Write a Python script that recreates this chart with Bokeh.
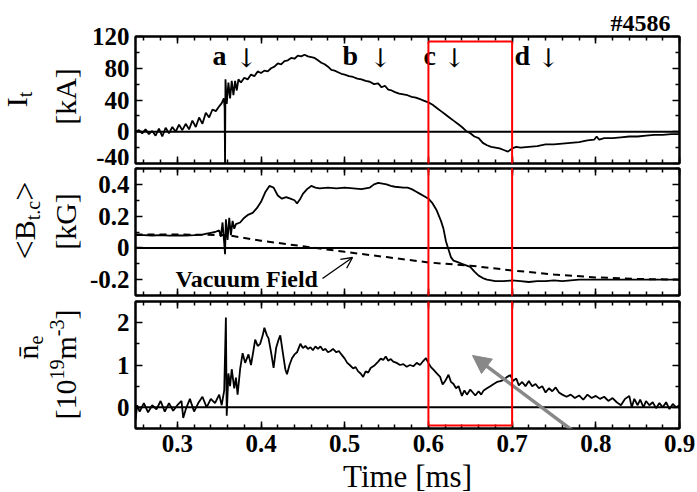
import numpy as np
from bokeh.plotting import figure
from bokeh.models import Range1d, LinearAxis, FixedTicker, Span, Label, Arrow, OpenHead, NormalHead, Title
from bokeh.layouts import column, row
from bokeh.embed import file_html
from bokeh.resources import INLINE

# ---------------- data ----------------
x_major = [0.3, 0.4, 0.5, 0.6, 0.7, 0.8, 0.9]
x_labels = ["0.3", "0.4", "0.5", "0.6", "0.7", "0.8", "0.9"]

it_major = [-40, 0, 40, 80, 120]
it_labels = ["-40", "0", "40", "80", "120"]
bt_major = [-0.2, 0.0, 0.2, 0.4]
bt_labels = ["-0.2", "0", "0.2", "0.4"]
ne_major = [0, 1, 2]
ne_labels = ["0", "1", "2"]

t_it = [0.250, 0.254, 0.258, 0.262, 0.266, 0.270, 0.274, 0.278, 0.282, 0.286, 0.290, 0.294,
        0.298, 0.302, 0.306, 0.310, 0.314, 0.318, 0.322, 0.326, 0.330, 0.334, 0.338, 0.342,
        0.346, 0.350, 0.353, 0.3555, 0.3565, 0.357, 0.3575, 0.359, 0.361, 0.363, 0.365, 0.367,
        0.369, 0.371, 0.373, 0.376, 0.380, 0.384, 0.388, 0.392, 0.396, 0.400, 0.404, 0.408,
        0.412, 0.416, 0.420, 0.424, 0.428, 0.432, 0.436, 0.440, 0.444, 0.448, 0.452, 0.456,
        0.460, 0.464, 0.468, 0.472, 0.476, 0.480, 0.484, 0.488, 0.492, 0.496, 0.500, 0.505,
        0.510, 0.515, 0.520, 0.525, 0.530, 0.535, 0.540, 0.544, 0.548, 0.552, 0.556, 0.560,
        0.565, 0.570, 0.575, 0.580, 0.585, 0.590, 0.595, 0.600, 0.605, 0.610, 0.615, 0.620,
        0.625, 0.630, 0.635, 0.640, 0.645, 0.650, 0.655, 0.660, 0.665, 0.670, 0.675, 0.680,
        0.685, 0.690, 0.695, 0.700, 0.705, 0.710, 0.720, 0.730, 0.740, 0.750, 0.760, 0.770,
        0.780, 0.790, 0.798, 0.801, 0.804, 0.810, 0.820, 0.830, 0.840, 0.850, 0.860, 0.870,
        0.880, 0.890, 0.900]
i_t = [0, 2, -2, 3, -3, 1, -5, 4, -6, 5, -2, 6,
       0, 9, 2, 10, 3, 14, 6, 18, 10, 24, 18, 28,
       26, 32, 36, 42, 30, -45, 66, 35, 62, 42, 64, 46,
       64, 52, 66, 62, 68, 66, 72, 70, 76, 74, 77, 76,
       80, 82, 86, 85, 89, 90, 93, 92, 96, 95, 97, 95,
       94, 93, 90, 87, 85, 82, 78, 77, 75, 73, 72, 70,
       69, 67, 66, 64, 63, 60, 61, 56, 58, 53, 52, 50,
       48, 47, 46, 44, 43, 41, 39, 37, 34, 30, 26, 22,
       18, 14, 10, 6, 1, -2, -6, -8, -14, -17, -19, -20,
       -21, -23, -25, -21, -19, -20, -19, -18, -16, -16, -15, -14,
       -13, -11, -10, -6, -10, -8, -8, -7, -6, -6, -5, -4,
       -4, -3, -3]

t_bt = [0.250, 0.260, 0.270, 0.280, 0.290, 0.300, 0.310, 0.320, 0.330, 0.335, 0.340, 0.345,
        0.350, 0.352, 0.354, 0.356, 0.357, 0.358, 0.360, 0.362, 0.364, 0.366, 0.368, 0.370,
        0.375, 0.380, 0.385, 0.390, 0.395, 0.400, 0.405, 0.410, 0.415, 0.420, 0.425, 0.430,
        0.435, 0.440, 0.443, 0.447, 0.450, 0.455, 0.460, 0.465, 0.470, 0.480, 0.490, 0.500,
        0.510, 0.520, 0.530, 0.535, 0.540, 0.545, 0.550, 0.555, 0.560, 0.570, 0.575, 0.580,
        0.585, 0.590, 0.595, 0.600, 0.605, 0.610, 0.615, 0.618, 0.621, 0.624, 0.627, 0.630,
        0.635, 0.640, 0.645, 0.650, 0.655, 0.660, 0.665, 0.670, 0.680, 0.690, 0.700, 0.710,
        0.720, 0.730, 0.740, 0.750, 0.760, 0.770, 0.780, 0.790, 0.800, 0.820, 0.840, 0.860,
        0.880, 0.900]
b_tc = [0.080, 0.080, 0.078, 0.080, 0.077, 0.079, 0.078, 0.080, 0.083, 0.090, 0.095, 0.100,
        0.110, 0.070, 0.160, 0.030, -0.040, 0.180, 0.050, 0.190, 0.080, 0.170, 0.120, 0.150,
        0.160, 0.190, 0.210, 0.220, 0.250, 0.290, 0.350, 0.390, 0.380, 0.330, 0.310, 0.320,
        0.310, 0.300, 0.280, 0.310, 0.340, 0.370, 0.390, 0.380, 0.375, 0.380, 0.375, 0.380,
        0.375, 0.370, 0.380, 0.400, 0.410, 0.405, 0.400, 0.390, 0.385, 0.380, 0.380, 0.370,
        0.355, 0.340, 0.325, 0.310, 0.280, 0.235, 0.170, 0.120, 0.040, -0.010, -0.060, -0.080,
        -0.090, -0.100, -0.110, -0.120, -0.150, -0.175, -0.190, -0.200, -0.210, -0.210, -0.205, -0.210,
        -0.215, -0.210, -0.210, -0.205, -0.210, -0.205, -0.200, -0.200, -0.200, -0.200, -0.200, -0.200,
        -0.200, -0.200]

t_vac = [0.25, 0.33, 0.36, 0.40, 0.45, 0.50, 0.55, 0.60, 0.65, 0.70, 0.75, 0.80, 0.85, 0.90]
b_vac = [0.085, 0.083, 0.080, 0.045, 0.010, -0.025, -0.058, -0.092, -0.112, -0.142, -0.168, -0.186, -0.196, -0.200]

t_ne = [0.250, 0.252, 0.255, 0.260, 0.265, 0.270, 0.275, 0.280, 0.285, 0.290, 0.295, 0.300,
        0.305, 0.307, 0.310, 0.315, 0.320, 0.325, 0.330, 0.335, 0.340, 0.345, 0.350, 0.353,
        0.356, 0.358, 0.359, 0.361, 0.363, 0.365, 0.368, 0.370, 0.372, 0.375, 0.378, 0.381,
        0.385, 0.388, 0.391, 0.393, 0.396, 0.399, 0.402, 0.404, 0.407, 0.409, 0.412, 0.415,
        0.418, 0.421, 0.423, 0.426, 0.429, 0.431, 0.434, 0.437, 0.440, 0.443, 0.447, 0.450,
        0.453, 0.456, 0.459, 0.462, 0.465, 0.468, 0.471, 0.474, 0.477, 0.480, 0.483, 0.486,
        0.490, 0.493, 0.496, 0.500, 0.503, 0.506, 0.510, 0.513, 0.516, 0.519, 0.522, 0.525,
        0.528, 0.531, 0.535, 0.540, 0.543, 0.546, 0.549, 0.552, 0.555, 0.558, 0.562, 0.566,
        0.570, 0.574, 0.578, 0.582, 0.586, 0.590, 0.594, 0.597, 0.600, 0.603, 0.606, 0.610,
        0.614, 0.617, 0.620, 0.624, 0.627, 0.630, 0.633, 0.636, 0.640, 0.643, 0.646, 0.650,
        0.653, 0.656, 0.660, 0.663, 0.666, 0.670, 0.674, 0.678, 0.682, 0.686, 0.690, 0.694,
        0.698, 0.701, 0.705, 0.708, 0.712, 0.716, 0.720, 0.724, 0.728, 0.732, 0.736, 0.740,
        0.744, 0.748, 0.752, 0.756, 0.760, 0.765, 0.770, 0.775, 0.780, 0.785, 0.790, 0.795,
        0.800, 0.805, 0.810, 0.815, 0.820, 0.825, 0.830, 0.835, 0.840, 0.843, 0.846, 0.850,
        0.853, 0.857, 0.860, 0.864, 0.868, 0.872, 0.876, 0.880, 0.884, 0.888, 0.892, 0.896,
        0.900]
n_e = [-0.30, 0.05, -0.10, 0.10, -0.12, 0.05, -0.05, 0.15, -0.10, 0.10, -0.08, 0.05,
       0.15, -0.25, -0.05, 0.20, -0.10, 0.10, 0.25, 0.00, 0.20, 0.10, 0.30, 0.05,
       0.40, 2.12, -0.20, 0.80, 0.50, 0.90, 0.45, 0.70, 0.30, 0.90, 1.28, 1.05,
       1.25, 1.00, 1.35, 1.60, 1.45, 1.50, 1.70, 1.88, 1.70, 1.63, 1.30, 0.93,
       1.40, 1.60, 1.70, 1.30, 0.90, 0.78, 1.00, 1.16, 1.25, 1.30, 1.50, 1.40,
       1.45, 1.38, 1.42, 1.35, 1.44, 1.38, 1.44, 1.35, 1.38, 1.30, 1.33, 1.38,
       1.30, 1.33, 1.25, 1.15, 1.05, 1.00, 0.92, 0.95, 0.85, 0.80, 0.72, 0.85,
       0.82, 0.93, 0.98, 1.08, 1.15, 1.12, 1.20, 1.10, 1.14, 1.08, 1.05, 1.00,
       1.02, 0.96, 1.00, 0.97, 1.05, 1.00, 1.10, 1.16, 1.05, 0.95, 0.89, 0.80,
       0.72, 0.54, 0.62, 0.77, 0.60, 0.55, 0.45, 0.50, 0.27, 0.40, 0.30, 0.42,
       0.35, 0.28, 0.38, 0.30, 0.40, 0.45, 0.50, 0.55, 0.60, 0.62, 0.65, 0.72,
       0.76, 0.62, 0.68, 0.52, 0.60, 0.50, 0.62, 0.50, 0.55, 0.45, 0.50, 0.35,
       0.45, 0.38, 0.47, 0.35, 0.30, 0.25, 0.30, 0.22, 0.28, 0.18, 0.30, 0.22,
       0.27, 0.20, 0.25, 0.15, 0.22, 0.12, 0.05, 0.20, 0.27, 0.00, 0.20, 0.05,
       0.18, 0.00, 0.15, 0.05, 0.12, -0.02, 0.10, 0.00, 0.12, -0.04, 0.08, 0.00,
       0.05]

# ---------------- layout helpers (page pixels) ----------------
FONT = "Liberation Serif"
PW, PH = 697, 492
LW = 84                      # width of the side strip holding the y titles
FL, FR, FH = 135, 679, 127   # frame left/right and frame height
XR = (0.25, 0.9)
TOPS = [36, 168, 301]
YR = [(-40, 120), (-0.3, 0.5), (-0.5, 2.5)]
x_minor = [round(v, 2) for v in np.arange(0.26, 0.901, 0.02)]
LINE_W = 1.8


def dx(px):
    return XR[0] + (px - FL) / (FR - FL) * (XR[1] - XR[0])


def dy(py, k):
    y0, y1 = YR[k]
    return y1 - (py - TOPS[k]) / FH * (y1 - y0)


def style_axis(ax, labels, ticks):
    ax.axis_line_width = 2
    ax.axis_line_color = "black"
    ax.major_tick_in = 7
    ax.major_tick_out = 0
    ax.minor_tick_in = 4
    ax.minor_tick_out = 0
    ax.major_tick_line_width = 1.5
    ax.minor_tick_line_width = 1.5
    ax.major_tick_line_color = "black"
    ax.minor_tick_line_color = "black"
    ax.major_label_text_font = FONT
    ax.major_label_text_font_style = "bold"
    ax.major_label_text_font_size = "25px"
    ax.major_label_text_color = "black"
    if labels is not None:
        ax.major_label_standoff = 6
        ax.major_label_overrides = {v: s for v, s in zip(ticks, labels)}
    else:
        ax.major_label_standoff = 0
        ax.major_label_overrides = {v: "" for v in ticks}


def make_fig(k, ymajor, ylabels, yminor, btop, bbot, xlab):
    p = figure(frame_width=FR - FL, frame_height=FH, x_range=Range1d(*XR), y_range=Range1d(*YR[k]),
               output_backend="svg", toolbar_location=None, x_axis_location=None, y_axis_location=None,
               min_border_left=FL - LW, min_border_right=PW - FR, min_border_top=btop,
               min_border_bottom=bbot)
    p.outline_line_color = "black"
    p.outline_line_width = 2
    p.background_fill_color = "white"
    p.border_fill_color = "white"
    p.xgrid.visible = False
    p.ygrid.visible = False
    xt = FixedTicker(ticks=x_major, minor_ticks=x_minor)
    yt = FixedTicker(ticks=ymajor, minor_ticks=yminor)
    for loc, lab in (("below", xlab), ("above", False)):
        ax = LinearAxis(ticker=xt)
        style_axis(ax, x_labels if lab else None, x_major)
        if lab:
            ax.axis_label = "Time [ms]"
            ax.axis_label_text_font = FONT
            ax.axis_label_text_font_style = "normal"
            ax.axis_label_text_font_size = "31px"
            ax.axis_label_text_color = "black"
            ax.axis_label_standoff = 4
        p.add_layout(ax, loc)
    for loc, lab in (("left", True), ("right", False)):
        ax = LinearAxis(ticker=yt)
        style_axis(ax, ylabels if lab else None, ymajor)
        p.add_layout(ax, loc)
    p.add_layout(Span(location=0, dimension="width", line_color="black", line_width=2))
    return p


def text(p, k, px, py, s, size, style="bold", align="left", font=FONT):
    # (px, py): left end and vertical middle of the text, in page pixels
    p.add_layout(Label(x=dx(px), y=dy(py, k), text=s, text_font=font, text_font_size=f"{size}px",
                       text_font_style=style, text_align=align, text_baseline="middle",
                       text_color="black"))


def red_seg(p, x0, y0, x1, y1):
    p.add_layout(Arrow(end=None, x_start=x0, y_start=y0, x_end=x1, y_end=y1,
                       line_color="#ff0000", line_width=2))


# ---------------- panel 1: I_t ----------------
p1 = make_fig(0, it_major, it_labels, [-20, 20, 60, 100], TOPS[0], 2, False)
p1.line(t_it, i_t, line_color="black", line_width=LINE_W)
p1.add_layout(Title(text="#4586", align="right", offset=9, standoff=1, text_font=FONT,
                    text_font_size="24px", text_font_style="bold", text_color="black"), "above")
for lx, axx, s in ((212, 235, "a"), (342, 369, "b"), (423, 443, "c"), (514, 537, "d")):
    text(p1, 0, lx, 55, s, 28)
    text(p1, 0, axx, 57, "\u2193", 26, style="normal", font="DejaVu Serif")

# ---------------- panel 2: B_tc ----------------
p2 = make_fig(1, bt_major, bt_labels, [-0.3, -0.1, 0.1, 0.3, 0.5], 3, 3, False)
p2.line(t_vac, b_vac, line_color="black", line_width=2, line_dash="7 5")
p2.line(t_bt, b_tc, line_color="black", line_width=LINE_W)
text(p2, 1, 175, 278, "Vacuum Field", 24)
p2.add_layout(Arrow(end=OpenHead(size=11, line_width=1.3, line_color="black"),
                    x_start=dx(322), y_start=dy(278, 1), x_end=dx(352), y_end=dy(257, 1),
                    line_color="black", line_width=1.3))

# ---------------- panel 3: n_e ----------------
p3 = make_fig(2, ne_major, ne_labels, [-0.5, 0.5, 1.5, 2.5], 3, PH - 301 - FH, True)
p3.line(t_ne, n_e, line_color="black", line_width=LINE_W)
p3.add_layout(Arrow(end=NormalHead(size=18, fill_color="#888888", line_color="#888888"),
                    x_start=dx(652), y_start=dy(490, 2), x_end=dx(472), y_end=dy(355, 2),
                    line_color="#888888", line_width=3.5))

# ---------------- red box across panels ----------------
xa, xb = 0.6, 0.7
ytop = dy(41, 0)
red_seg(p1, xa, ytop, xb, ytop)
red_seg(p1, xa, ytop, xa, dy(175, 0))
red_seg(p1, xb, ytop, xb, dy(175, 0))
red_seg(p2, xa, dy(150, 1), xa, dy(310, 1))
red_seg(p2, xb, dy(150, 1), xb, dy(310, 1))
ybot = dy(425, 2)
red_seg(p3, xa, dy(285, 2), xa, ybot)
red_seg(p3, xb, dy(285, 2), xb, ybot)
red_seg(p3, xa, ybot, xb, ybot)

# ---------------- side strip with the rotated y titles ----------------
WID = {'I': .333, 't': .278, '[': .333, ']': .333, 'k': .5, 'A': .722, 'G': .722, '<': .564,
       '>': .564, 'B': .667, '.': .25, 'c': .444, 'n': .5, 'e': .444, '1': .5, '0': .5, '9': .5,
       'm': .778, '-': .333, '3': .5, '\u0304': 0.0}


def tw(s, size):
    return sum(WID.get(ch, .5) for ch in s) * size


side = figure(width=LW, height=PH, x_range=Range1d(0, LW), y_range=Range1d(0, PH),
              output_backend="svg", toolbar_location=None, x_axis_location=None,
              y_axis_location=None, min_border=0)
side.outline_line_color = None
side.xgrid.visible = False
side.ygrid.visible = False


def ylabel(runs, center_py):
    # runs: (text, font size, x of the run's middle line); read bottom to top
    total = sum(tw(s, sz) for s, sz, _ in runs)
    py = center_py + total / 2
    for s, sz, cx in runs:
        side.add_layout(Label(x=cx, y=PH - py, text=s, angle=90, angle_units="deg",
                              text_font=FONT, text_font_size=f"{sz}px", text_align="left",
                              text_baseline="middle", text_color="black"))
        py -= tw(s, sz)


ylabel([("I", 30, 16), ("t", 20, 24)], 99)
ylabel([("[kA]", 30, 65)], 96)
ylabel([("<", 34, 24), ("B", 30, 24), ("t.c", 20, 32), (">", 34, 24)], 220)
ylabel([("[kG]", 30, 65)], 221)
ylabel([("n\u0304", 30, 27), ("e", 20, 35)], 347)
ylabel([("[10", 30, 65), ("19", 20, 56), ("m", 30, 65), ("-3", 20, 56), ("]", 30, 65)], 364)

layout = row(side, column(p1, p2, p3))
open("out.html", "w").write(file_html(layout, INLINE))
